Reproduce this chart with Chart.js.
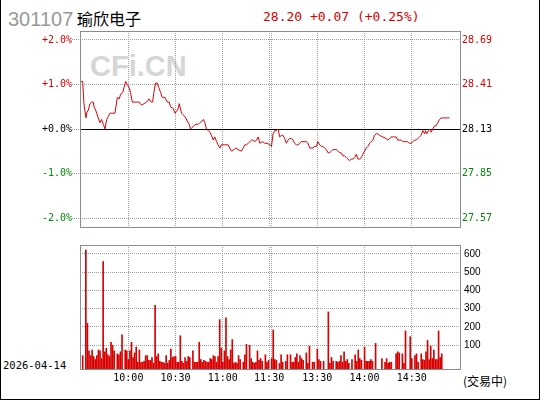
<!DOCTYPE html>
<html>
<head>
<meta charset="utf-8">
<script src="https://cdn.jsdelivr.net/npm/chart.js"></script>
<style>
  body { margin: 0; background: #fff; }
  #wrap { position: relative; width: 540px; height: 400px; overflow: hidden; background: #fff; }
  .t { position: absolute; white-space: nowrap; line-height: 1; }
  canvas { position: absolute; left: 0; }
  #border { position: absolute; left: 0; top: 0; width: 540px; height: 400px; box-sizing: border-box;
            border-left: 1px solid #000; border-right: 1px solid #000; border-bottom: 1px solid #000; }
</style>
</head>
<body>
<div id="wrap">
  <div class="t" style="left:90px;top:50px;font:bold 29px 'Liberation Sans';color:#d6d6d6">CFi.CN</div>
  <div class="t" style="left:8px;top:8px;font:20px 'Liberation Sans';color:#999">301107</div>
  <div class="t" style="left:77px;top:6px;font:16px 'Noto Sans CJK SC';color:#000">瑜欣电子</div>
  <div class="t" style="left:263px;top:9px;font:13px 'DejaVu Sans Mono';color:#d40000">28.20 +0.07 (+0.25%)</div>
  <div class="t" style="left:3px;top:359px;font:10.5px 'DejaVu Sans Mono';color:#000">2026-04-14</div>
  <div class="t" style="left:463px;top:372px;font:12px 'Noto Sans CJK SC';color:#000">(交易中)</div>
  <canvas id="price" width="540" height="235" style="top:0"></canvas>
  <canvas id="vol" width="540" height="165" style="top:235px"></canvas>
  <div id="border"></div>
</div>
<script>
// trading minutes since 9:30 (11:30 and 13:00 share minute 120)
const basePrice = 28.13;
const pctTicks = [-2, -1, 0, 1, 2];
const gridMinutes = [30, 60, 90, 119.4, 120.6, 150, 180, 210];
const timeLabels = ["10:00", "10:30", "11:00", "11:30", "", "13:30", "14:00", "14:30"];
const volTicks = [100, 200, 300, 400, 500, 600];

const priceTimes = [0, 1.0, 1.8, 3.1, 3.5, 4.6, 5.6, 6.7, 7.8, 8.2, 9.2, 9.9, 10.9, 12.0, 13.0, 14.1, 15.2, 16.2, 17.3, 18.3,
  19.4, 21.5, 22.1, 23.0, 24.2, 25.1, 26.4, 27.2, 28.3, 29.3, 30.6, 31.4, 32.5, 33.6, 35.2, 36.9, 38.4, 39.9, 41.6, 43.1,
  44.5, 45.4, 46.2, 47.3, 48.3, 49.4, 50.5, 51.5, 53.2, 54.7, 56.0, 56.8, 58.5, 59.6, 60.6, 61.7, 62.3, 63.8, 64.8, 66.5,
  67.4, 68.6, 69.5, 70.5, 71.6, 72.9, 74.4, 75.4, 76.7, 77.7, 78.6, 79.6, 80.7, 81.8, 82.8, 83.9, 84.9, 86.0, 87.0, 88.1,
  89.1, 91.3, 93.4, 94.4, 95.5, 97.0, 98.2, 99.7, 101.8, 102.9, 103.9, 105.0, 106.1, 108.2, 109.2, 110.3, 111.4, 112.4, 113.5, 115.2,
  116.6, 118.1, 119.8, 120.9, 121.9, 123.0, 124.0, 125.1, 126.1, 127.2, 128.2, 129.3, 130.3, 131.4, 132.5, 133.5, 134.6, 135.6, 136.7, 137.7,
  138.8, 139.8, 140.9, 142.0, 143.0, 144.1, 145.1, 146.2, 147.2, 148.3, 149.4, 150.4, 151.5, 152.5, 153.6, 154.6, 155.7, 156.8, 157.8, 158.9,
  159.9, 161.0, 162.0, 163.1, 164.1, 165.2, 166.3, 167.3, 168.4, 169.4, 170.5, 171.5, 172.6, 173.7, 174.7, 175.8, 176.8, 177.9, 178.9, 180.0,
  181.1, 182.1, 183.2, 184.2, 185.3, 186.3, 187.4, 188.4, 189.5, 191.6, 193.7, 194.8, 195.9, 196.9, 199.0, 200.1, 201.1, 203.3, 204.3, 206.4,
  207.5, 208.5, 209.6, 210.7, 211.7, 212.8, 213.8, 214.9, 215.9, 217.0, 218.1, 218.7, 219.5, 220.6, 221.2, 222.3, 223.3, 224.4, 225.4, 226.5,
  227.6, 228.6, 229.7, 233.9];
const prices = [28.43, 28.43, 28.29, 28.20, 28.23, 28.25, 28.29, 28.30, 28.30, 28.27, 28.25, 28.23, 28.20, 28.17, 28.19, 28.16, 28.13, 28.19, 28.21, 28.23,
  28.23, 28.23, 28.27, 28.33, 28.32, 28.35, 28.36, 28.39, 28.43, 28.41, 28.39, 28.36, 28.30, 28.30, 28.30, 28.30, 28.28, 28.29, 28.30, 28.32,
  28.30, 28.30, 28.36, 28.42, 28.42, 28.39, 28.36, 28.33, 28.33, 28.30, 28.30, 28.27, 28.26, 28.23, 28.24, 28.26, 28.29, 28.23, 28.22, 28.20,
  28.18, 28.16, 28.13, 28.14, 28.15, 28.16, 28.16, 28.17, 28.18, 28.19, 28.17, 28.13, 28.12, 28.11, 28.09, 28.06, 28.08, 28.05, 28.03, 28.01,
  28.03, 28.03, 28.03, 28.01, 27.99, 28.00, 28.01, 28.00, 27.99, 28.01, 28.03, 28.03, 28.04, 28.06, 28.06, 28.05, 28.06, 28.08, 28.04, 28.05,
  28.04, 28.04, 28.03, 28.02, 28.10, 28.12, 28.12, 28.13, 28.08, 28.09, 28.09, 28.07, 28.04, 28.06, 28.07, 28.07, 28.06, 28.04, 28.03, 28.03,
  28.04, 28.05, 28.05, 28.05, 28.05, 28.04, 28.01, 28.01, 28.01, 28.02, 28.02, 28.05, 28.03, 28.02, 28.02, 28.01, 28.00, 27.98, 27.98, 27.99,
  28.00, 28.00, 28.00, 27.99, 27.98, 27.98, 27.96, 27.96, 27.95, 27.94, 27.93, 27.94, 27.94, 27.95, 27.97, 27.94, 27.94, 27.95, 27.97, 27.99,
  28.01, 28.02, 28.04, 28.05, 28.06, 28.09, 28.10, 28.10, 28.09, 28.08, 28.07, 28.06, 28.07, 28.08, 28.08, 28.08, 28.06, 28.06, 28.05, 28.05,
  28.05, 28.04, 28.04, 28.05, 28.06, 28.06, 28.07, 28.08, 28.09, 28.12, 28.10, 28.12, 28.10, 28.12, 28.13, 28.11, 28.13, 28.15, 28.15, 28.17,
  28.19, 28.20, 28.20, 28.20];

const volMinutes = [1, 3, 4, 5, 6, 7, 8, 9, 10, 11, 12, 13, 14, 15, 16, 17, 18, 19, 20, 21, 23, 24, 25, 26, 28, 29, 30, 31, 32, 33,
  34, 35, 36, 37, 38, 39, 40, 41, 42, 43, 44, 45, 46, 47, 48, 49, 50, 51, 52, 53, 54, 55, 56, 57, 58, 59, 60, 61, 62, 63,
  64, 65, 66, 67, 68, 69, 71, 72, 73, 74, 75, 76, 77, 78, 79, 80, 81, 82, 83, 84, 85, 86, 87, 88, 89, 90, 91, 92, 93, 94,
  95, 96, 97, 98, 99, 100, 101, 103, 104, 105, 107, 108, 109, 110, 111, 112, 113, 114, 115, 117, 118, 119, 121, 122, 123, 124, 126, 127, 128, 130,
  131, 133, 134, 135, 136, 137, 138, 139, 140, 141, 143, 144, 145, 147, 148, 150, 151, 152, 154, 157, 158, 159, 160, 162, 163, 164, 165, 166, 167, 168,
  169, 170, 172, 174, 175, 176, 177, 178, 180, 181, 182, 183, 184, 185, 187, 191, 193, 194, 195, 196, 197, 200, 201, 202, 204, 205, 206, 209, 210, 212,
  213, 214, 216, 217, 218, 219, 220, 221, 222, 223, 224, 225, 226, 227, 228, 229];
const volumes = [43, 621, 219, 69, 43, 74, 38, 22, 43, 74, 69, 27, 557, 64, 84, 48, 38, 116, 100, 69, 53, 48, 64, 157, 74, 69, 22, 69, 116, 33,
  58, 90, 7, 74, 7, 7, 12, 43, 43, 17, 17, 33, 1, 318, 38, 53, 12, 7, 7, 1, 43, 1, 17, 79, 33, 38, 38, 7, 7, 152,
  12, 1, 33, 12, 38, 33, 69, 7, 7, 7, 116, 22, 7, 17, 12, 7, 7, 27, 22, 43, 38, 7, 38, 240, 84, 7, 69, 250, 38, 22,
  74, 131, 1, 7, 1, 43, 22, 7, 48, 105, 100, 27, 7, 1, 7, 69, 17, 27, 12, 48, 7, 17, 27, 183, 22, 17, 1, 48, 7, 12,
  48, 48, 7, 7, 33, 53, 7, 43, 27, 17, 58, 1, 95, 7, 7, 79, 22, 12, 12, 282, 1, 33, 12, 12, 7, 12, 43, 7, 64, 12,
  22, 1, 22, 48, 12, 74, 27, 17, 90, 12, 12, 12, 22, 12, 110, 27, 7, 27, 1, 7, 7, 53, 64, 58, 53, 1, 178, 147, 27, 43,
  53, 7, 53, 22, 17, 64, 126, 22, 95, 27, 74, 22, 22, 178, 33, 53];

const RED = "#d80000";
const GREEN = "#008c00";
const GRID = "#a0a0a0";
const FRAME = "#8c8c8c";
const monoFont = { family: "DejaVu Sans Mono", size: 10 };

function signColor(v) {
  if (v > 0.0001) return RED;
  if (v < -0.0001) return GREEN;
  return "#000";
}

const framePlugin = {
  id: "frame",
  beforeDatasetsDraw(chart, args, opts) {
    if (!opts.zero) return;
    const { ctx, chartArea: a } = chart;
    const y = Math.round(chart.scales.y.getPixelForValue(0)) + 0.5;
    ctx.save();
    ctx.strokeStyle = "#000";
    ctx.lineWidth = 1;
    ctx.beginPath();
    ctx.moveTo(a.left, y);
    ctx.lineTo(a.right, y);
    ctx.stroke();
    ctx.restore();
  },
  afterDatasetsDraw(chart) {
    const { ctx, chartArea: a } = chart;
    ctx.save();
    ctx.strokeStyle = FRAME;
    ctx.lineWidth = 1;
    ctx.strokeRect(a.left + 0.5, a.top + 0.5, a.right - a.left, a.bottom - a.top);
    ctx.restore();
  },
};

const xScale = {
  type: "linear",
  min: -0.7,
  max: 240.6,
  offset: false,
  afterBuildTicks: (s) => { s.ticks = gridMinutes.map((v) => ({ value: v })); },
  grid: { color: GRID, drawTicks: false, offset: false },
  border: { display: false, dash: [1, 1] },
};

new Chart(document.getElementById("price"), {
  type: "line",
  data: {
    datasets: [{
      data: priceTimes.map((t, i) => ({ x: t, y: prices[i] })),
      yAxisID: "yp",
      borderColor: RED,
      borderWidth: 1,
      pointRadius: 0,
      tension: 0,
    }],
  },
  options: {
    responsive: false,
    animation: false,
    devicePixelRatio: 1,
    layout: { padding: { top: 31, bottom: 7, left: 0, right: 0 } },
    plugins: { legend: { display: false }, tooltip: { enabled: false }, frame: { zero: true } },
    scales: {
      x: Object.assign({}, xScale, {
        ticks: { display: false },
        afterFit: (s) => { s.height = 0; },
      }),
      y: {
        position: "left",
        min: -2.2,
        max: 2.2,
        afterFit: (s) => { s.width = 80; },
        afterBuildTicks: (s) => { s.ticks = pctTicks.map((v) => ({ value: v })); },
        ticks: {
          font: monoFont,
          padding: 0,
          color: (c) => signColor(c.tick.value),
          callback: (v) => (v >= 0 ? "+" : "") + v.toFixed(1) + "%",
        },
        grid: {
          color: (c) => (c.tick && c.tick.value === 0 ? "rgba(0,0,0,0)" : GRID),
          tickLength: 8,
          tickColor: GRID,
          tickBorderDash: [1, 1],
        },
        border: { display: false, dash: [1, 1] },
      },
      yp: {
        position: "right",
        min: basePrice * 0.978,
        max: basePrice * 1.022,
        afterFit: (s) => { s.width = 80; },
        afterBuildTicks: (s) => { s.ticks = pctTicks.map((v) => ({ value: basePrice * (1 + v / 100) })); },
        ticks: {
          font: monoFont,
          padding: 2,
          color: (c) => signColor(c.tick.value - basePrice),
          callback: (v) => v.toFixed(2),
        },
        grid: { display: false, drawTicks: false },
        border: { display: false },
      },
    },
  },
  plugins: [framePlugin],
});

new Chart(document.getElementById("vol"), {
  type: "bar",
  data: {
    datasets: [{
      data: volMinutes.map((m, i) => ({ x: m, y: volumes[i] })),
      backgroundColor: RED,
      barThickness: 1,
      base: -30,
    }],
  },
  options: {
    responsive: false,
    animation: false,
    devicePixelRatio: 1,
    layout: { padding: { top: 3, bottom: 0, left: 80, right: 0 } },
    plugins: { legend: { display: false }, tooltip: { enabled: false } },
    scales: {
      x: Object.assign({}, xScale, {
        afterFit: (s) => { s.height = 31; },
        ticks: {
          font: monoFont,
          color: "#000",
          padding: 3,
          autoSkip: false,
          maxRotation: 0,
          callback: (v, i) => timeLabels[i],
        },
      }),
      y: {
        position: "right",
        min: -30,
        max: 648,
        afterFit: (s) => { s.width = 80; },
        afterBuildTicks: (s) => { s.ticks = volTicks.map((v) => ({ value: v })); },
        ticks: { font: { family: "Liberation Sans", size: 10 }, color: "#000", padding: 4 },
        grid: { color: GRID, drawTicks: false },
        border: { display: false, dash: [1, 1] },
      },
    },
  },
  plugins: [framePlugin],
});
</script>
</body>
</html>
